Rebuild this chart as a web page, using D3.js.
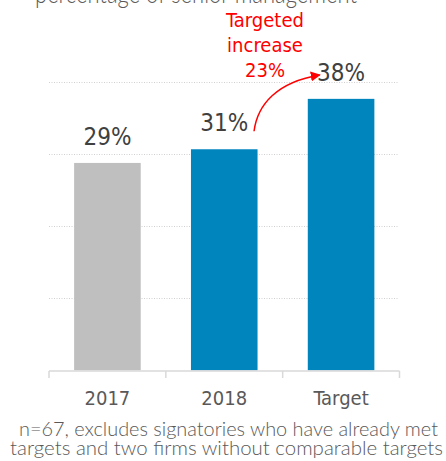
<!DOCTYPE html>
<html>
<head>
<meta charset="utf-8">
<script src="https://cdn.jsdelivr.net/npm/d3@7"></script>
<style>
  html, body { margin: 0; padding: 0; background: #fff; }
  svg { display: block; }
</style>
</head>
<body>
<svg id="chart" width="446" height="461"></svg>
<script>
const categories = ["2017", "2018", "Target"];
const values = [28.8, 30.7, 37.7];
const barColors = ["#bfbfbf", "#0085bd", "#0085bd"];
const gridTicks = [10, 20, 30, 40];
const titleText = "percentage of senior management";
const annotationLines = ["Targeted", "increase", "23%"];
const footnoteLines = [
  "n=67, excludes signatories who have already met",
  "targets and two firms without comparable targets"
];

const calibri = "'Liberation Sans Narrow', 'DejaVu Sans Condensed', 'Liberation Sans', sans-serif";
const gill = "Lato, 'Noto Sans', sans-serif";

const svg = d3.select("#chart");

const x = d3.scaleBand()
  .domain(categories)
  .range([49, 399.5])
  .paddingInner(0.43)
  .paddingOuter(0.215);

const y = d3.scaleLinear().domain([0, 40]).range([370.3, 82.3]);

// title (cut off at top)
svg.append("text")
  .attr("x", 35).attr("y", 3)
  .attr("font-family", gill).attr("font-weight", 300)
  .attr("font-size", 27).attr("fill", "#595959")
  .attr("textLength", 322).attr("lengthAdjust", "spacingAndGlyphs")
  .text(titleText);

// gridlines
svg.append("g").selectAll("line").data(gridTicks).join("line")
  .attr("x1", 49).attr("x2", 399)
  .attr("y1", d => Math.round(y(d)) + 0.5).attr("y2", d => Math.round(y(d)) + 0.5)
  .attr("stroke", "#d0d0d0").attr("stroke-width", 1)
  .attr("stroke-dasharray", "1,1.5");

// bars
svg.append("g").selectAll("rect").data(values).join("rect")
  .attr("x", (d, i) => x(categories[i]))
  .attr("width", x.bandwidth())
  .attr("y", d => y(d))
  .attr("height", d => y(0) - y(d))
  .attr("fill", (d, i) => barColors[i]);

// value labels
svg.append("g").selectAll("text").data(values).join("text")
  .attr("x", (d, i) => x(categories[i]) + x.bandwidth() / 2)
  .attr("y", d => y(d) - 18)
  .attr("text-anchor", "middle")
  .attr("font-family", calibri).attr("font-size", 24).attr("fill", "#404040")
  .text(d => Math.round(d) + "%");

// x axis
const axis = d3.axisBottom(x).tickSize(7).tickSizeOuter(7).tickFormat("");
const gAxis = svg.append("g").attr("transform", "translate(0,371)");
gAxis.append("line").attr("x1", 49).attr("x2", 399.5).attr("y1", 0).attr("y2", 0)
  .attr("stroke", "#d9d9d9").attr("stroke-width", 1.5);
const edges = [49].concat(categories.map(c => x(c) + x.bandwidth() + (x.step() - x.bandwidth()) / 2));
gAxis.selectAll("line.tick").data(edges).join("line").attr("class", "tick")
  .attr("x1", d => d).attr("x2", d => d).attr("y1", 0).attr("y2", 7)
  .attr("stroke", "#d9d9d9").attr("stroke-width", 1.5);
gAxis.selectAll("text").data(categories).join("text")
  .attr("x", d => x(d) + x.bandwidth() / 2)
  .attr("y", 34)
  .attr("text-anchor", "middle")
  .attr("font-family", calibri).attr("font-size", 20).attr("fill", "#595959")
  .text(d => d);

// annotation
svg.append("g").selectAll("text").data(annotationLines).join("text")
  .attr("x", 265).attr("y", (d, i) => 27 + i * 25)
  .attr("text-anchor", "middle")
  .attr("font-family", calibri).attr("font-size", 20).attr("fill", "#ff0000")
  .text(d => d);

const defs = svg.append("defs");
defs.append("marker").attr("id", "ah")
  .attr("viewBox", "0 0 10 10").attr("refX", 9).attr("refY", 5)
  .attr("markerWidth", 10).attr("markerHeight", 10)
  .attr("markerUnits", "userSpaceOnUse")
  .attr("orient", "auto")
  .append("path").attr("d", "M0,0 L10,5 L0,10 Z").attr("fill", "#ff0000");

const x2018 = x("2018") + x.bandwidth();
const xT = x("Target");
const arrow = d3.path();
arrow.moveTo(x2018 - 3.5, y(values[1]) - 18);
arrow.bezierCurveTo(x2018 + 0, 104, x2018 + 20, 82, xT + 12, 75);
svg.append("path").attr("d", arrow.toString())
  .attr("fill", "none").attr("stroke", "#ff0000").attr("stroke-width", 1.5)
  .attr("marker-end", "url(#ah)");

// footnote
svg.append("g").selectAll("text").data(footnoteLines).join("text")
  .attr("x", (d, i) => i === 0 ? 19 : 10)
  .attr("y", (d, i) => 436 + i * 19)
  .attr("font-family", gill).attr("font-weight", 300)
  .attr("font-size", 20).attr("fill", "#595959")
  .attr("textLength", (d, i) => i === 0 ? 419 : 433)
  .attr("lengthAdjust", "spacingAndGlyphs")
  .text(d => d);
</script>
</body>
</html>
